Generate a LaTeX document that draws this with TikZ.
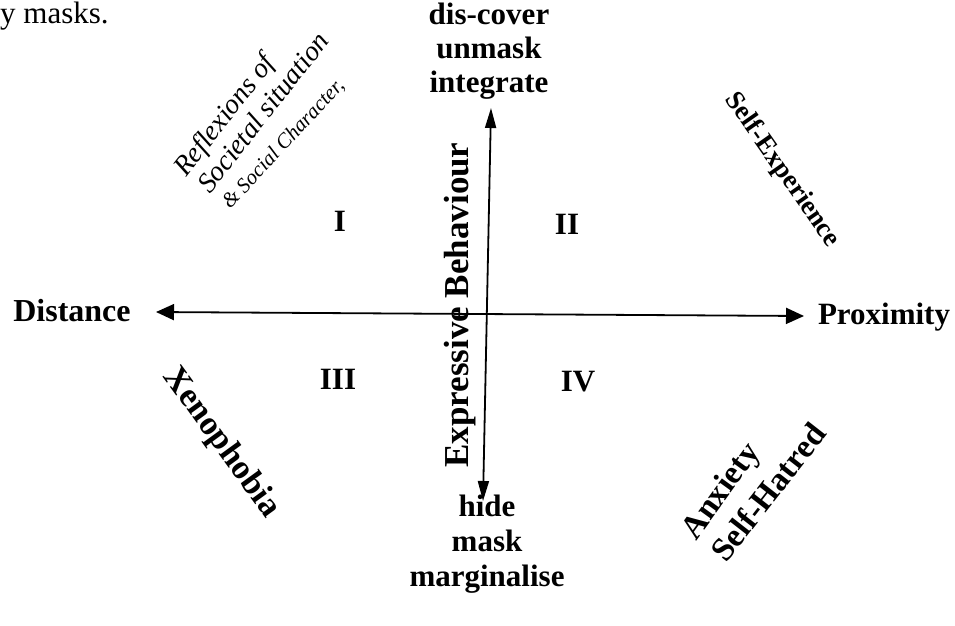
\documentclass[tikz,border=0pt]{standalone}
\usepackage{fontspec}
\setmainfont{Liberation Serif}
\usetikzlibrary{arrows.meta}
\tikzset{
  lbl/.style={font=\fontsize{31}{34}\selectfont\bfseries, inner sep=0pt, align=center},
  hand/.style={font=\fontsize{28}{30}\selectfont\itshape, inner sep=0pt, anchor=base west, rotate=52},
  haxis/.style={line width=1.8pt, {Triangle[length=18pt,width=16pt]}-{Triangle[length=18pt,width=16pt]}},
  vaxis/.style={line width=1.8pt, {Triangle[length=20pt,width=11pt]}-{Triangle[length=20pt,width=11pt]}}
}
\begin{document}
\begin{tikzpicture}[x=1pt,y=-1pt]
\useasboundingbox (0,0) rectangle (955,625);
% leftover text
\node[font=\fontsize{31}{33}\selectfont, inner sep=0pt, anchor=base west] (ym) at (0,23) {y masks.};
% axes
\coordinate (L) at (156,312);
\coordinate (R) at (804,316);
\coordinate (T) at (491,108);
\coordinate (B) at (483,501);
\draw[haxis] (L) -- (R);
\draw[vaxis] (T) -- (B);
% top labels
\node[lbl, anchor=base] (t1) at (489,24) {dis-cover};
\node[lbl, anchor=base] (t2) at (489,58) {unmask};
\node[lbl, anchor=base] (t3) at (489,92) {integrate};
% bottom labels
\node[lbl, anchor=base] (b1) at (487,516) {hide};
\node[lbl, anchor=base] (b2) at (487,551) {mask};
\node[lbl, anchor=base] (b3) at (487,586) {marginalise};
% sides
\node[lbl, font=\fontsize{32}{34}\selectfont\bfseries] (dist) at (72,311) {Distance};
\node[lbl] (prox) at (884,317) {Proximity};
% quadrants
\node[lbl] (q1) at (340,221) {I};
\node[lbl] (q2) at (567,224) {II};
\node[lbl] (q3) at (338,379) {III};
\node[lbl] (q4) at (578,382) {IV};
% vertical label
\node[lbl, rotate=90, font=\fontsize{35}{37}\selectfont\bfseries] (eb) at (460,305) {Expressive Behaviour};
% diagonal labels
\node[lbl, rotate=-55, font=\fontsize{27}{29}\selectfont\bfseries] (se) at (782,170) {Self-Experience};
\node[lbl, rotate=-54, font=\fontsize{34}{36}\selectfont\bfseries] (xe) at (221,443) {Xenophobia};
\node[lbl, rotate=54, font=\fontsize{33}{35}\selectfont\bfseries] (ax1) at (722,492) {Anxiety};
\node[lbl, rotate=52, font=\fontsize{33}{35}\selectfont\bfseries] (ax2) at (768,492) {Self-Hatred};
% handwritten note
\node[hand] (h1) at (186,178) {Reflexions of};
\node[hand] (h2) at (210,195) {Societal situation};
\node[hand, rotate=-5, font=\fontsize{21}{23}\selectfont\itshape] (h3) at (230,210) {\& Social Character,};
\end{tikzpicture}
\end{document}
